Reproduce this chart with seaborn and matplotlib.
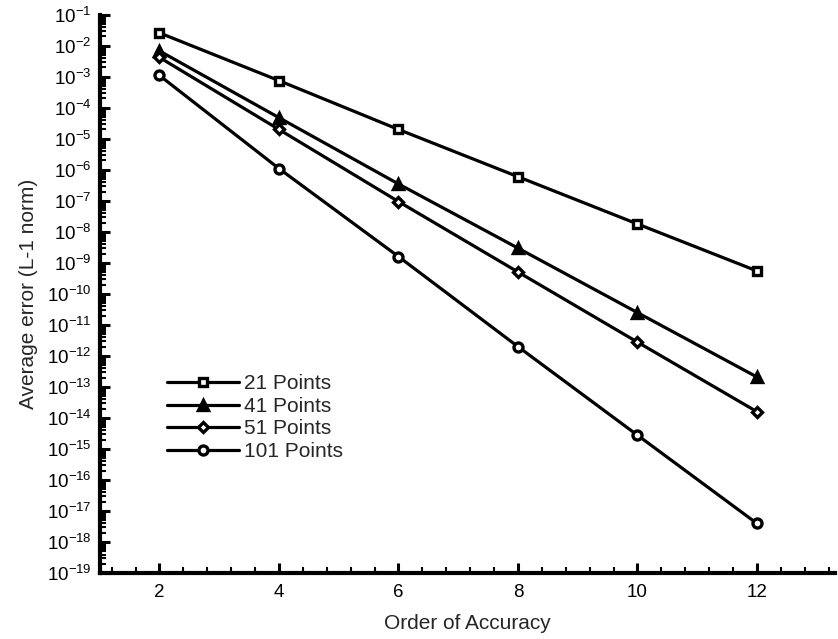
import numpy as np
import pandas as pd
import matplotlib
matplotlib.use("Agg")
import matplotlib.pyplot as plt
import seaborn as sns
from matplotlib.ticker import LogLocator, MultipleLocator, FixedLocator

order = [2, 4, 6, 8, 10, 12]
pts21 = [2.6e-2, 7.5e-4, 2.0e-5, 6.0e-7, 1.8e-8, 5.5e-10]
pts41 = [6.8e-3, 4.8e-5, 3.5e-7, 3.0e-9, 2.5e-11, 2.1e-13]
pts51 = [4.2e-3, 2.0e-5, 9.5e-8, 5.1e-10, 2.8e-12, 1.6e-14]
pts101 = [1.1e-3, 1.1e-6, 1.6e-9, 2.0e-12, 2.8e-15, 4.0e-18]
labels = ["21 Points", "41 Points", "51 Points", "101 Points"]
y_ticks = [10.0 ** e for e in range(-19, 0)]

sns.set_theme(style="white")
plt.rcParams['font.family'] = ['Liberation Sans', 'DejaVu Sans']
plt.rcParams['mathtext.fontset'] = 'custom'
plt.rcParams['mathtext.rm'] = 'Liberation Sans'
plt.rcParams['mathtext.it'] = 'Liberation Sans'

fig = plt.figure(figsize=(8.38, 6.39), dpi=100)
ax = fig.add_axes([0.119, 0.103, 0.877, 0.874])

series = [pts21, pts41, pts51, pts101]
markers = ["s", "^", "D", "o"]
faces = ["white", "black", "white", "white"]
sizes = [6, 7.5, 5.5, 6.5]
for vals, lab, m, fc, ms in zip(series, labels, markers, faces, sizes):
    df = pd.DataFrame({"order": order, "err": vals})
    sns.lineplot(data=df, x="order", y="err", ax=ax, color="black", linewidth=2.3,
                 marker=m, markersize=ms, markerfacecolor=fc, markeredgecolor="black",
                 markeredgewidth=2.4, label=lab)

ax.set_yscale("log")
ax.set_ylim(1e-19, 1e-1)
ax.set_xlim(1.0, 13.3)
ax.yaxis.set_major_locator(FixedLocator(y_ticks))
ax.yaxis.set_minor_locator(LogLocator(base=10, subs=np.arange(2, 10), numticks=100))
ax.xaxis.set_major_locator(FixedLocator(order))
ax.xaxis.set_minor_locator(MultipleLocator(0.4))

for s in ["top", "right"]:
    ax.spines[s].set_visible(False)
for s in ["left", "bottom"]:
    ax.spines[s].set_linewidth(3)
    ax.spines[s].set_color("black")

ax.tick_params(axis="both", which="major", direction="in", length=7.5, width=2.2,
               labelsize=13.5, colors="black", pad=8)
ax.tick_params(axis="both", which="minor", direction="in", length=4, width=1.5, colors="black")
ax.tick_params(axis="y", which="major", pad=6)
ax.tick_params(left=True, bottom=True, which="both")

ax.set_xlabel("Order of Accuracy", fontsize=15, labelpad=9)
ax.set_ylabel("Average error (L-1 norm)", fontsize=15, labelpad=6)

leg = ax.legend(loc="upper left", bbox_to_anchor=(0.092, 0.356), frameon=False, fontsize=15,
                handlelength=3.45, handletextpad=0.25, labelspacing=0.17, borderaxespad=0,
                borderpad=0)

fig.savefig("out.png", dpi=100)
